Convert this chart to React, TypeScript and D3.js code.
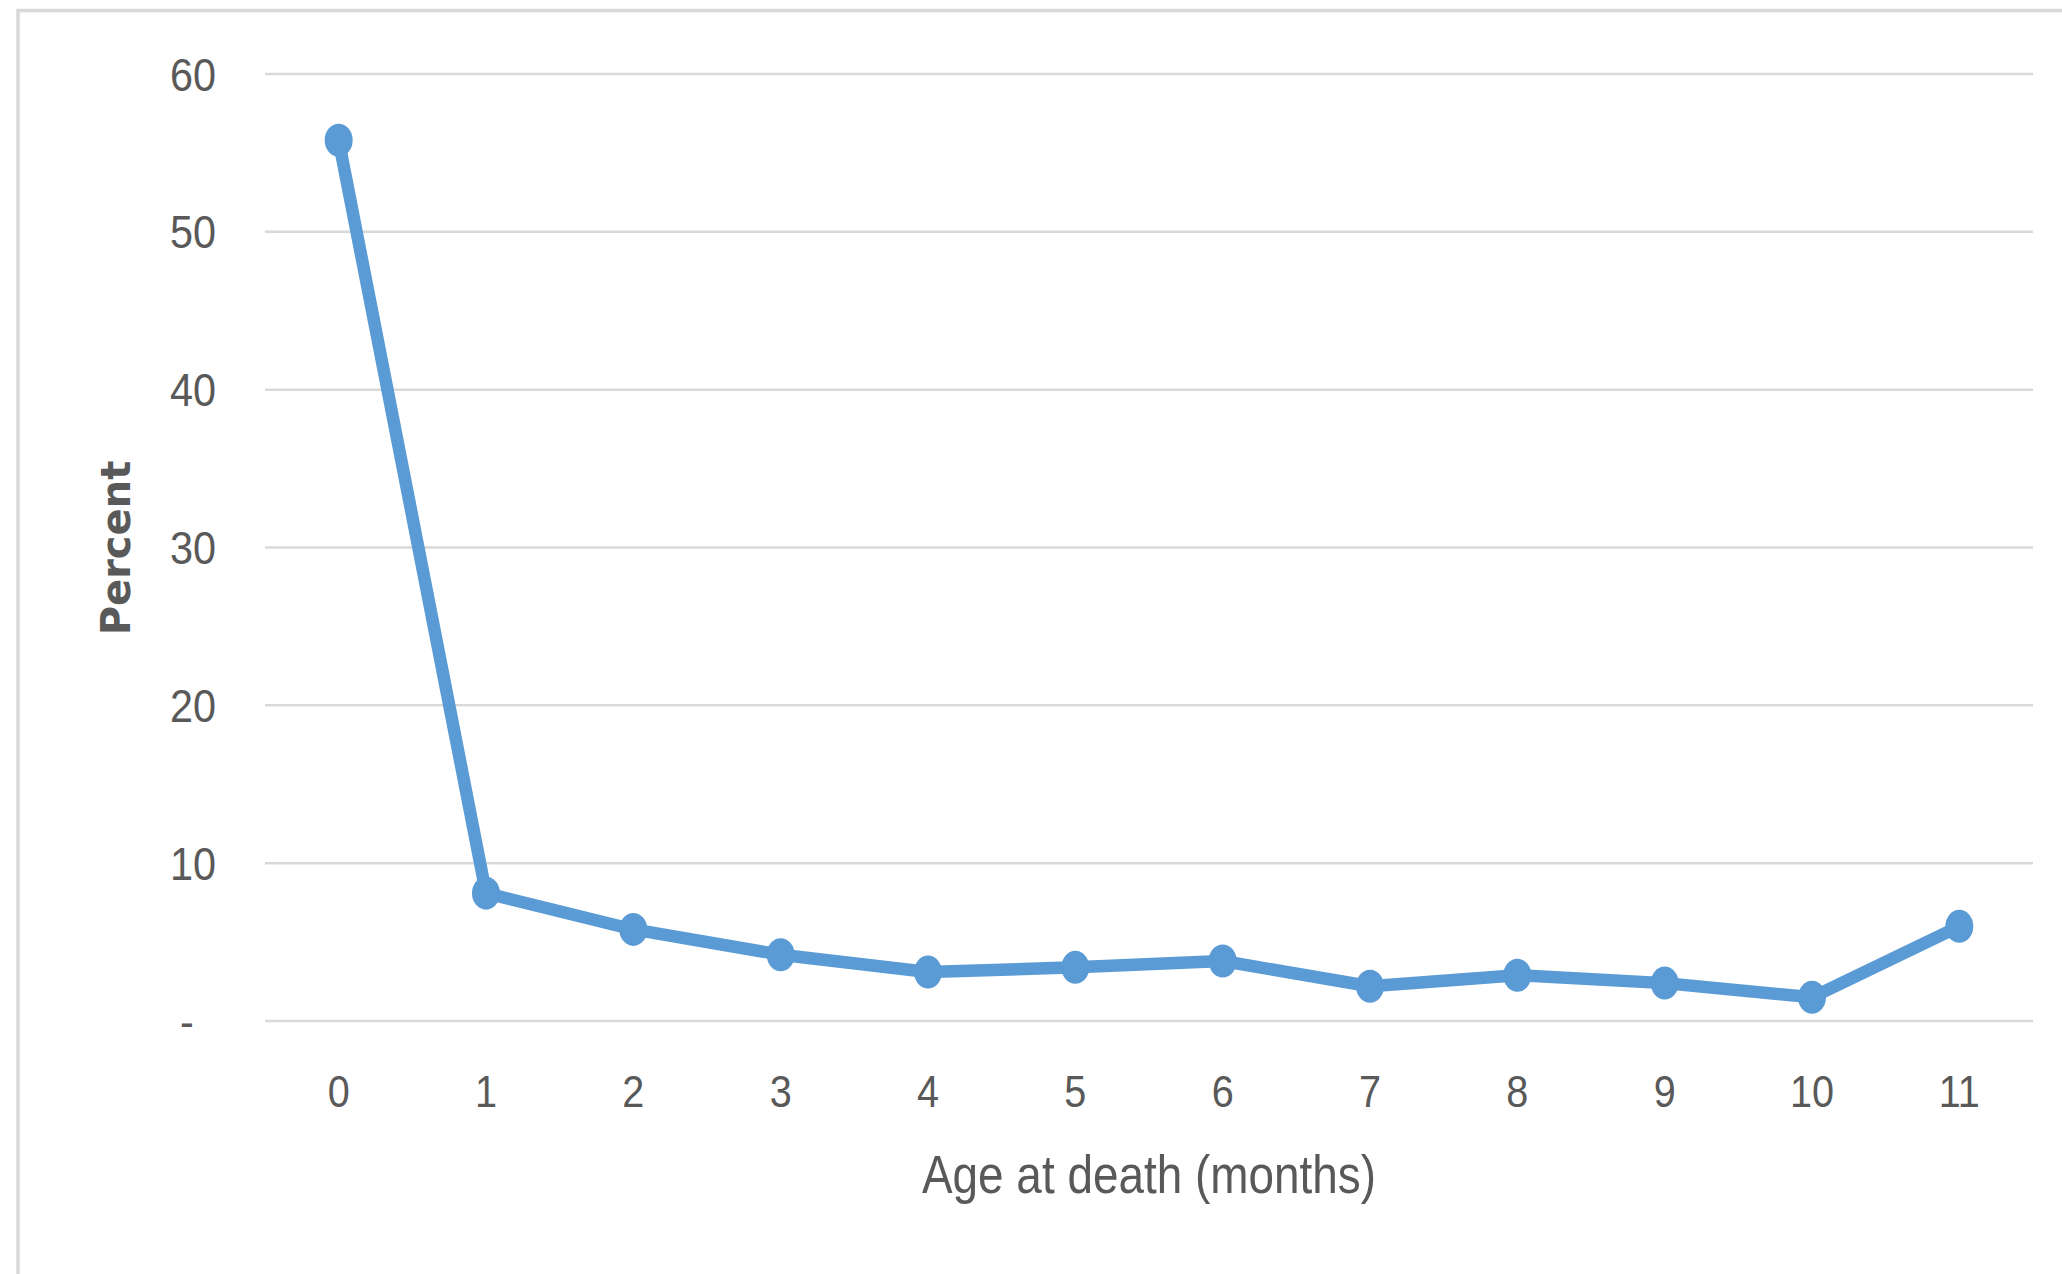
import React from "react";
import * as d3 from "d3";

const months = ["0", "1", "2", "3", "4", "5", "6", "7", "8", "9", "10", "11"];
const percent = [55.8, 8.1, 5.8, 4.2, 3.1, 3.4, 3.8, 2.2, 2.9, 2.4, 1.5, 6.0];
const yTicks = [0, 10, 20, 30, 40, 50, 60];
const yTickLabels = ["-", "10", "20", "30", "40", "50", "60"];
const xTitle = "Age at death (months)";
const yTitle = "Percent";

const W = 2062;
const H = 1274;
const LINE = "#5b9bd5";
const GRID = "#d9d9d9";
const TEXT = "#595959";
const FONT = "'Liberation Sans', Arial, sans-serif";

function NText(props: { x: number; y: number; anchor: string; size: number; sx: number; children: React.ReactNode; dy?: string }) {
  return (
    <text
      transform={`translate(${props.x},${props.y}) scale(${props.sx},1)`}
      dy={props.dy}
      textAnchor={props.anchor}
      fontFamily={FONT}
      fontSize={props.size}
      fill={TEXT}
    >
      {props.children}
    </text>
  );
}

export default function App() {
  const x = d3.scaleBand<string>().domain(months).range([265, 2033]);
  const y = d3.scaleLinear().domain([0, 60]).range([1021, 74]);
  const cx = (m: string) => (x(m) as number) + x.bandwidth() / 2;
  const pts: [number, number][] = percent.map((v, i) => [cx(months[i]), y(v)]);
  const line = d3.line<[number, number]>().x((d) => d[0]).y((d) => d[1]);

  return (
    <svg
      width={W}
      height={H}
      style={{ position: "absolute", left: 0, top: 0, background: "#fff" }}
    >
      <rect x={0} y={0} width={W} height={H} fill="#fff" />
      <rect x={18} y={10.5} width={W + 20} height={H + 20} fill="none" stroke={GRID} strokeWidth={3.5} />
      {yTicks.map((t) => (
        <line key={t} x1={265} x2={2033} y1={y(t)} y2={y(t)} stroke={GRID} strokeWidth={2.5} />
      ))}
      {yTicks.map((t, i) => (
        <NText
          key={"yl" + t}
          x={t === 0 ? 187 : 216}
          y={y(t)}
          dy="0.36em"
          anchor={t === 0 ? "middle" : "end"}
          size={46}
          sx={0.9}
        >
          {yTickLabels[i]}
        </NText>
      ))}
      {months.map((m) => (
        <NText key={"xl" + m} x={cx(m)} y={1107} anchor="middle" size={45} sx={0.88}>
          {m}
        </NText>
      ))}
      <NText x={(265 + 2033) / 2} y={1193} anchor="middle" size={54} sx={0.85}>
        {xTitle}
      </NText>
      <text
        transform={`translate(130,548) rotate(-90)`}
        textAnchor="middle"
        fontFamily="'DejaVu Sans', sans-serif"
        fontWeight="bold"
        fontSize={40}
        fill={TEXT}
      >
        {yTitle}
      </text>
      <path d={line(pts) || ""} fill="none" stroke={LINE} strokeWidth={12.5} strokeLinejoin="round" />
      {pts.map((p, i) => (
        <ellipse key={"pt" + i} cx={p[0]} cy={p[1]} rx={14} ry={16.5} fill={LINE} />
      ))}
    </svg>
  );
}
